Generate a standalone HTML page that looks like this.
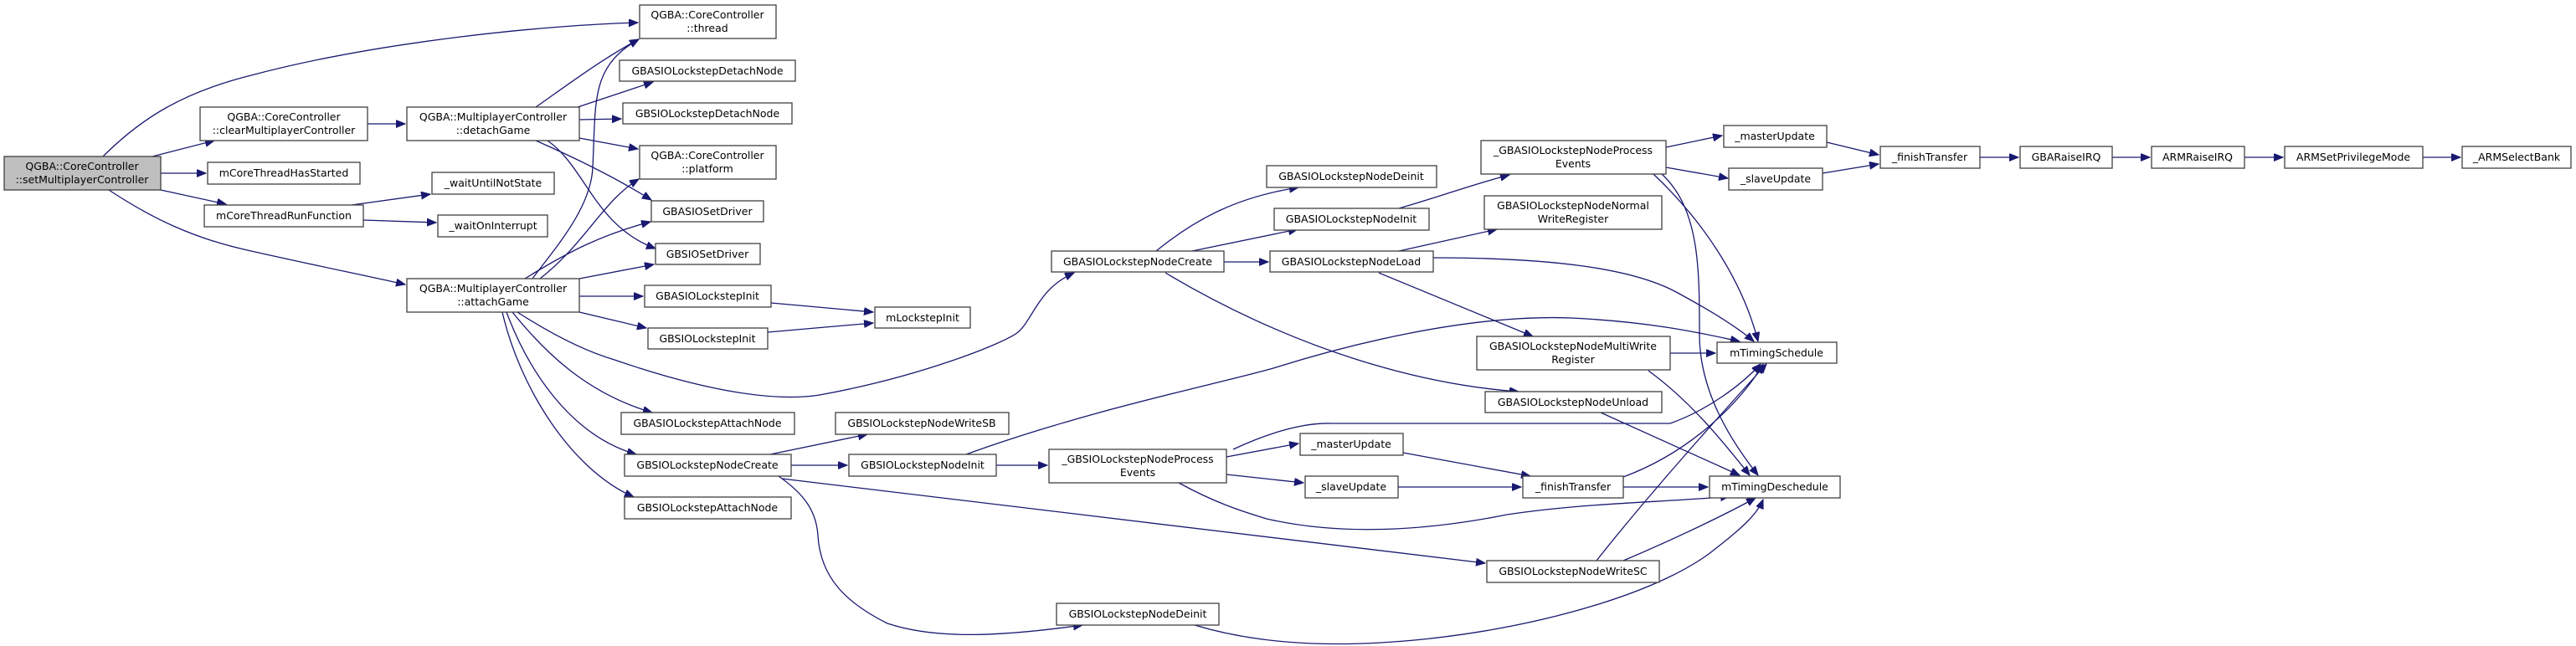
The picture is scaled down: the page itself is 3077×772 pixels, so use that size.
<!DOCTYPE html>
<html><head><meta charset="utf-8"><style>
html,body{margin:0;padding:0;background:#fff;}
svg{display:block;}
text{font-family:"DejaVu Sans","Liberation Sans",sans-serif;font-size:12.5px;fill:#000;text-anchor:middle;}
rect{fill:#fff;stroke:#404040;stroke-width:1.3;}
path{fill:none;stroke:#191970;stroke-width:1.3;marker-end:url(#a);}
</style></head><body>
<svg width="3077" height="772" viewBox="0 0 3077 772" xmlns="http://www.w3.org/2000/svg">
<defs><marker id="a" markerUnits="userSpaceOnUse" markerWidth="12" markerHeight="10" refX="11" refY="4.5" orient="auto"><path d="M0,0 L11,4.5 L0,9 Z" style="fill:#191970;stroke:#191970;stroke-width:1;marker-end:none"/></marker></defs>

<path d="M123,187 C170,140 220,110 300,90 C450,50 650,30 762,27"/>
<path d="M182,187 L256,168"/>
<path d="M192,207 L246,207"/>
<path d="M192,227 L270,244"/>
<path d="M130,227 C180,260 230,285 300,300 C380,318 440,330 484,340"/>
<path d="M439,148 L484,148"/>
<path d="M420,245 L514,232"/>
<path d="M434,263 L521,266"/>
<path d="M640,128 C680,100 720,70 763,47"/>
<path d="M690,128 L780,98"/>
<path d="M692,143 L742,142"/>
<path d="M692,165 L762,178"/>
<path d="M640,168 C690,190 740,215 778,239"/>
<path d="M654,168 C700,200 710,270 783,297"/>
<path d="M636,333 C660,300 706,250 708,200 C712,120 705,80 763,47"/>
<path d="M645,333 C700,290 720,240 763,214"/>
<path d="M627,333 C680,300 720,280 777,265"/>
<path d="M692,333 L781,316"/>
<path d="M692,354 L768,354"/>
<path d="M692,373 L772,392"/>
<path d="M921,362 L1043,373"/>
<path d="M917,397 L1043,386"/>
<path d="M618,373 C660,400 700,420 734,430 C850,470 930,480 979,472 C1100,450 1200,410 1216,397 C1235,380 1240,345 1283,326"/>
<path d="M612,373 C650,420 700,470 779,493"/>
<path d="M605,373 C630,440 680,520 760,543"/>
<path d="M600,373 C620,460 680,560 757,594"/>
<path d="M1154,543 C1300,490 1450,460 1521,440 C1600,415 1750,375 1877,380 C1980,385 2040,400 2078,408"/>
<path d="M1381,300 C1430,260 1480,235 1551,224"/>
<path d="M1424,300 L1550,274"/>
<path d="M1462,313 L1515,313"/>
<path d="M1392,326 C1550,420 1700,460 1814,468"/>
<path d="M1671,249 C1720,235 1760,220 1803,209"/>
<path d="M1671,300 L1788,274"/>
<path d="M1647,326 L1831,402"/>
<path d="M1712,308 C1850,308 1950,320 2004,350 C2050,375 2080,395 2095,408"/>
<path d="M1990,176 L2057,162"/>
<path d="M1990,200 L2064,213"/>
<path d="M1975,208 C2030,260 2080,330 2100,408"/>
<path d="M1985,208 C2030,250 2030,320 2030,400 C2030,470 2070,530 2100,568"/>
<path d="M1995,422 L2049,422"/>
<path d="M1969,443 C2020,480 2060,530 2090,568"/>
<path d="M1912,493 L2078,568"/>
<path d="M2182,170 L2244,185"/>
<path d="M2177,207 L2244,196"/>
<path d="M2365,188 L2411,188"/>
<path d="M2523,188 L2568,188"/>
<path d="M2681,188 L2727,188"/>
<path d="M2894,188 L2939,188"/>
<path d="M920,543 L1036,519"/>
<path d="M945,556 L1012,556"/>
<path d="M934,572 L1774,673"/>
<path d="M930,569 C960,590 975,610 977,640 C980,690 1010,720 1060,745 C1120,765 1200,760 1293,747"/>
<path d="M1190,556 L1251,556"/>
<path d="M1465,546 L1551,530"/>
<path d="M1465,567 L1557,577"/>
<path d="M1473,537 C1520,515 1560,505 1590,506 L1995,506 C2040,490 2080,460 2103,435"/>
<path d="M1408,577 C1450,600 1480,610 1513,620 C1600,640 1700,635 1800,615 C1900,600 2000,600 2066,593"/>
<path d="M1676,541 L1828,569"/>
<path d="M1670,582 L1817,582"/>
<path d="M1939,582 L2040,582"/>
<path d="M1939,570 C2020,540 2080,480 2106,435"/>
<path d="M1907,670 C1970,590 2060,490 2110,435"/>
<path d="M1939,670 C2010,640 2070,610 2097,595"/>
<path d="M1427,747 C1520,775 1620,772 1700,764 C1850,748 1990,705 2050,655 C2085,628 2100,612 2106,597"/>

<rect x="5" y="187" width="187" height="40" style="fill:#bfbfbf"/><text x="98" y="203">QGBA::CoreController</text><text x="98" y="219">::setMultiplayerController</text>
<rect x="239" y="128" width="200" height="40"/><text x="339" y="144">QGBA::CoreController</text><text x="339" y="160">::clearMultiplayerController</text>
<rect x="248" y="194" width="182" height="26"/><text x="339" y="211">mCoreThreadHasStarted</text>
<rect x="244" y="245" width="190" height="26"/><text x="339" y="262">mCoreThreadRunFunction</text>
<rect x="486" y="128" width="206" height="40"/><text x="589" y="144">QGBA::MultiplayerController</text><text x="589" y="160">::detachGame</text>
<rect x="486" y="333" width="206" height="40"/><text x="589" y="349">QGBA::MultiplayerController</text><text x="589" y="365">::attachGame</text>
<rect x="516" y="206" width="146" height="26"/><text x="589" y="223">_waitUntilNotState</text>
<rect x="523" y="257" width="131" height="26"/><text x="589" y="274">_waitOnInterrupt</text>
<rect x="764" y="6" width="163" height="40"/><text x="845" y="22">QGBA::CoreController</text><text x="845" y="38">::thread</text>
<rect x="740" y="72" width="210" height="25"/><text x="845" y="89">GBASIOLockstepDetachNode</text>
<rect x="744" y="123" width="202" height="25"/><text x="845" y="140">GBSIOLockstepDetachNode</text>
<rect x="764" y="174" width="163" height="40"/><text x="845" y="190">QGBA::CoreController</text><text x="845" y="206">::platform</text>
<rect x="778" y="240" width="134" height="25"/><text x="845" y="257">GBASIOSetDriver</text>
<rect x="783" y="291" width="125" height="25"/><text x="845" y="308">GBSIOSetDriver</text>
<rect x="770" y="341" width="151" height="26"/><text x="845" y="358">GBASIOLockstepInit</text>
<rect x="774" y="392" width="143" height="25"/><text x="845" y="409">GBSIOLockstepInit</text>
<rect x="1045" y="367" width="114" height="25"/><text x="1102" y="384">mLockstepInit</text>
<rect x="742" y="493" width="207" height="26"/><text x="845" y="510">GBASIOLockstepAttachNode</text>
<rect x="998" y="493" width="207" height="26"/><text x="1101" y="510">GBSIOLockstepNodeWriteSB</text>
<rect x="746" y="543" width="199" height="26"/><text x="845" y="560">GBSIOLockstepNodeCreate</text>
<rect x="746" y="594" width="199" height="26"/><text x="845" y="611">GBSIOLockstepAttachNode</text>
<rect x="1014" y="543" width="176" height="26"/><text x="1102" y="560">GBSIOLockstepNodeInit</text>
<rect x="1253" y="537" width="212" height="40"/><text x="1359" y="553">_GBSIOLockstepNodeProcess</text><text x="1359" y="569">Events</text>
<rect x="1553" y="518" width="123" height="26"/><text x="1614" y="535">_masterUpdate</text>
<rect x="1559" y="569" width="111" height="26"/><text x="1614" y="586">_slaveUpdate</text>
<rect x="1819" y="569" width="120" height="26"/><text x="1879" y="586">_finishTransfer</text>
<rect x="2042" y="569" width="156" height="26"/><text x="2120" y="586">mTimingDeschedule</text>
<rect x="1776" y="670" width="206" height="26"/><text x="1879" y="687">GBSIOLockstepNodeWriteSC</text>
<rect x="1262" y="721" width="194" height="26"/><text x="1359" y="738">GBSIOLockstepNodeDeinit</text>
<rect x="1256" y="300" width="206" height="25"/><text x="1359" y="317">GBASIOLockstepNodeCreate</text>
<rect x="1513" y="198" width="203" height="26"/><text x="1614" y="215">GBASIOLockstepNodeDeinit</text>
<rect x="1522" y="249" width="185" height="26"/><text x="1614" y="266">GBASIOLockstepNodeInit</text>
<rect x="1517" y="300" width="195" height="25"/><text x="1614" y="317">GBASIOLockstepNodeLoad</text>
<rect x="1769" y="168" width="221" height="40"/><text x="1879" y="184">_GBASIOLockstepNodeProcess</text><text x="1879" y="200">Events</text>
<rect x="1773" y="234" width="212" height="40"/><text x="1879" y="250">GBASIOLockstepNodeNormal</text><text x="1879" y="266">WriteRegister</text>
<rect x="1764" y="402" width="231" height="40"/><text x="1879" y="418">GBASIOLockstepNodeMultiWrite</text><text x="1879" y="434">Register</text>
<rect x="1774" y="468" width="211" height="25"/><text x="1879" y="485">GBASIOLockstepNodeUnload</text>
<rect x="2051" y="409" width="143" height="25"/><text x="2122" y="426">mTimingSchedule</text>
<rect x="2059" y="150" width="123" height="26"/><text x="2120" y="167">_masterUpdate</text>
<rect x="2065" y="201" width="112" height="26"/><text x="2121" y="218">_slaveUpdate</text>
<rect x="2246" y="175" width="119" height="26"/><text x="2305" y="192">_finishTransfer</text>
<rect x="2413" y="175" width="110" height="26"/><text x="2468" y="192">GBARaiseIRQ</text>
<rect x="2570" y="175" width="111" height="26"/><text x="2625" y="192">ARMRaiseIRQ</text>
<rect x="2729" y="175" width="165" height="26"/><text x="2811" y="192">ARMSetPrivilegeMode</text>
<rect x="2941" y="175" width="130" height="26"/><text x="3006" y="192">_ARMSelectBank</text>
</svg>
</body></html>
